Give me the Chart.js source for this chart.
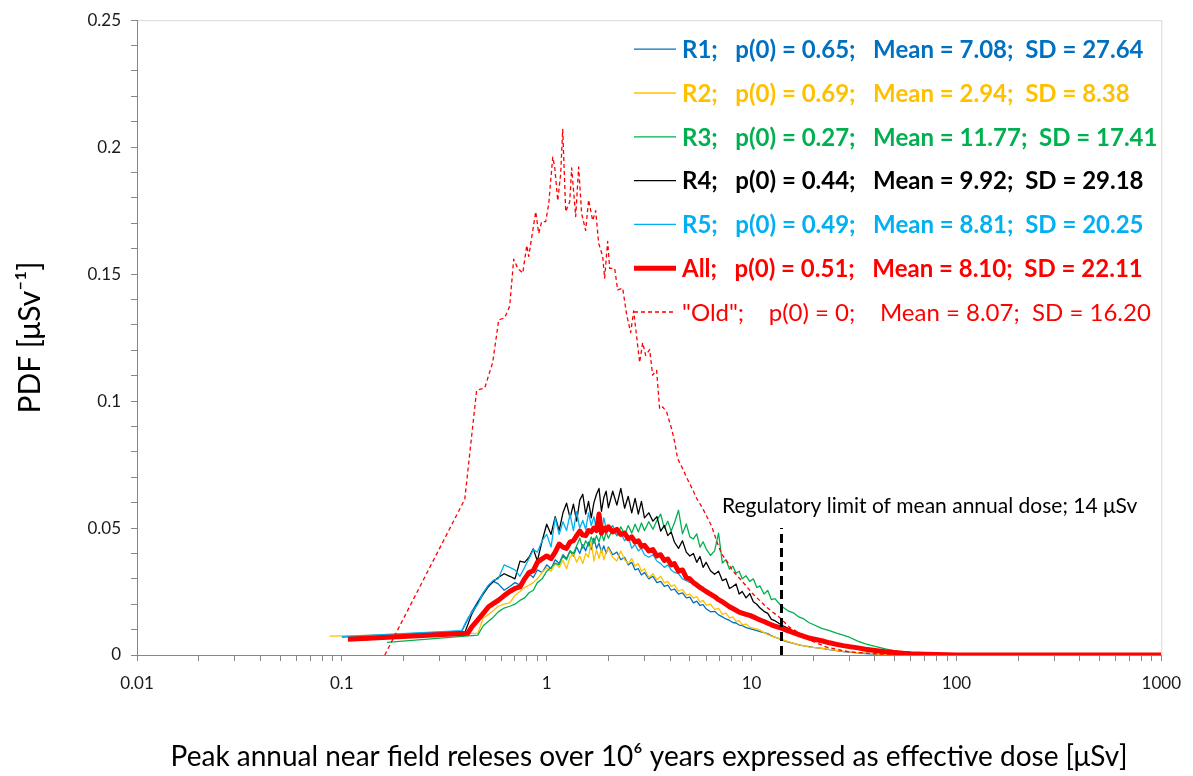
<!DOCTYPE html>
<html>
<head>
<meta charset="utf-8">
<title>PDF of peak annual near field releases</title>
<script src="https://cdn.jsdelivr.net/npm/chart.js@4.4.1/dist/chart.umd.min.js"></script>
<style>
  html, body { margin: 0; padding: 0; background: #fff; }
  #wrap { width: 1193px; height: 776px; position: relative; }
</style>
</head>
<body>
<div id="wrap"><canvas id="pdf-chart"></canvas></div>
<script>

/*======= Data =======*/

// dose grid shared by R1..R5 and All [uSv]
var dose = [
  0.087, 0.1, 0.107, 0.13, 0.166, 0.385, 0.40, 0.412, 0.43, 0.461,
  0.49, 0.52, 0.55, 0.58, 0.62, 0.66, 0.70, 0.74, 0.78, 0.82, 0.86, 0.90, 0.95,
  1.0, 1.05, 1.1, 1.15, 1.2, 1.25, 1.3, 1.35, 1.4, 1.45, 1.5, 1.55, 1.6, 1.65, 1.7, 1.75, 1.8, 1.85, 1.9, 1.95,
  2.0, 2.1, 2.2, 2.3, 2.4, 2.5, 2.6, 2.7, 2.8, 2.9, 3.0,
  3.15, 3.3, 3.45, 3.6, 3.75, 3.9, 4.05, 4.2, 4.4, 4.6, 4.8, 5.0,
  5.2, 5.4, 5.6, 5.8, 6.0, 6.3, 6.6, 6.9, 7.2, 7.5, 7.8, 8.1, 8.4, 8.7, 9.0, 9.4, 9.8,
  10.2, 10.6, 11.0, 11.5, 12, 12.5, 13, 14, 15, 16, 17, 18, 19, 20,
  22, 24, 26, 28, 30, 33, 36, 40, 45, 50, 55, 60, 70, 80, 90, 100, 200, 500, 1000
];

var pdfR1 = [
  null, 0.0070, null, null, null, 0.0094, 0.0120, 0.0140, 0.0170, 0.0210,
  0.0245, 0.0275, 0.0290, 0.0280, 0.0255, 0.0270, 0.0285, 0.0275, 0.0300, 0.0320, 0.0305, 0.0335, 0.0325,
  0.0355, 0.0340, 0.0375, 0.0360, 0.0395, 0.0380, 0.0410, 0.0390, 0.0425, 0.0400, 0.0435, 0.0410, 0.0445, 0.0415, 0.0460, 0.0420, 0.0440, 0.0405, 0.0430, 0.0400,
  0.0425, 0.0395, 0.0405, 0.0375, 0.0385, 0.0355, 0.0365, 0.0335, 0.0340, 0.0315, 0.0325,
  0.0300, 0.0310, 0.0285, 0.0290, 0.0270, 0.0275, 0.0255, 0.0260, 0.0240, 0.0245, 0.0225, 0.0228,
  0.0205, 0.0212, 0.0195, 0.0198, 0.0182, 0.0170, 0.0172, 0.0158, 0.0150, 0.0142, 0.0136, 0.0128, 0.0126, 0.0118, 0.0116, 0.0108, 0.0104,
  0.0100, 0.0096, 0.0092, 0.0088, 0.0084, 0.0076, 0.0070, 0.0060, 0.0052, 0.0046, 0.0040, 0.0036, 0.0033, 0.0030,
  0.0026, 0.0021, 0.0017, 0.0013, 0.0011, 0.0008, 0.0006, 0.0004, 0.0003, 0.0002, 0.0001, 0.0001, 0, 0, 0, 0, null, null, null
];

var pdfR2 = [
  0.0074, null, null, null, null, null, null, null, null, 0.0086,
  0.0145, 0.0160, 0.0175, 0.0192, 0.0200, 0.0205, 0.0235, 0.0250, 0.0266, 0.0275, 0.0285, 0.0300, 0.0325,
  0.0344, 0.0330, 0.0360, 0.0345, 0.0372, 0.0340, 0.0385, 0.0400, 0.0365, 0.0390, 0.0360, 0.0400, 0.0385, 0.0450, 0.0370, 0.0415, 0.0380, 0.0420, 0.0375, 0.0405,
  0.0420, 0.0385, 0.0370, 0.0410, 0.0375, 0.0360, 0.0380, 0.0350, 0.0360, 0.0330, 0.0340,
  0.0305, 0.0320, 0.0296, 0.0310, 0.0284, 0.0290, 0.0270, 0.0276, 0.0252, 0.0258, 0.0236, 0.0240,
  0.0224, 0.0230, 0.0208, 0.0215, 0.0196, 0.0200, 0.0180, 0.0184, 0.0160, 0.0165, 0.0146, 0.0150, 0.0132, 0.0135, 0.0120, 0.0122, 0.0110,
  0.0106, 0.0103, 0.0098, 0.0088, 0.0080, 0.0074, 0.0070, 0.0062, 0.0054, 0.0047, 0.0040, 0.0036, 0.0032, 0.0030,
  0.0026, 0.0022, 0.0018, 0.0015, 0.0012, 0.0009, 0.0007, 0.0005, 0.0003, 0.0002, 0.0001, 0.0001, 0, 0, 0, 0, null, null, null
];

var pdfR3 = [
  null, null, null, null, 0.0050, null, null, null, null, 0.0078,
  0.0115, 0.0133, 0.0150, 0.0170, 0.0185, 0.0192, 0.0200, 0.0215, 0.0225, 0.0245, 0.0255, 0.0285, 0.0300,
  0.0330, 0.0345, 0.0362, 0.0355, 0.0390, 0.0375, 0.0410, 0.0400, 0.0430, 0.0460, 0.0420, 0.0450, 0.0430, 0.0465, 0.0440, 0.0470, 0.0445, 0.0480, 0.0450, 0.0485,
  0.0460, 0.0495, 0.0470, 0.0505, 0.0475, 0.0510, 0.0480, 0.0515, 0.0485, 0.0520, 0.0490,
  0.0525, 0.0495, 0.0530, 0.0555, 0.0500, 0.0527, 0.0488, 0.0520, 0.0570, 0.0477, 0.0516, 0.0465,
  0.0457, 0.0477, 0.0425, 0.0446, 0.0418, 0.0392, 0.0410, 0.0480, 0.0362, 0.0375, 0.0338, 0.0350, 0.0322, 0.0330, 0.0300, 0.0312, 0.0290,
  0.0300, 0.0266, 0.0272, 0.0240, 0.0254, 0.0218, 0.0222, 0.0192, 0.0175, 0.0166, 0.0150, 0.0142, 0.0128, 0.0120,
  0.0105, 0.0096, 0.0086, 0.0078, 0.0070, 0.0055, 0.0044, 0.0034, 0.0024, 0.0016, 0.0010, 0.0005, 0.0001, 0, 0, 0, null, null, null
];

var pdfR4 = [
  null, null, null, 0.0060, null, null, 0.0092, null, 0.0160, 0.0205,
  0.0240, 0.0270, 0.0290, 0.0305, 0.0320, 0.0310, 0.0300, 0.0370, 0.0365, 0.0385, 0.0418, 0.0370, 0.0450,
  0.0515, 0.0475, 0.0545, 0.0490, 0.0560, 0.0598, 0.0540, 0.0594, 0.0527, 0.0610, 0.0633, 0.0555, 0.0605, 0.0540, 0.0600, 0.0633, 0.0656, 0.0566, 0.0620, 0.0645,
  0.0580, 0.0645, 0.0590, 0.0656, 0.0578, 0.0625, 0.0560, 0.0617, 0.0555, 0.0605, 0.0540,
  0.0560, 0.0527, 0.0545, 0.0488, 0.0510, 0.0470, 0.0485, 0.0445, 0.0420, 0.0450, 0.0405, 0.0390,
  0.0400, 0.0365, 0.0388, 0.0345, 0.0365, 0.0332, 0.0318, 0.0330, 0.0293, 0.0300, 0.0262, 0.0270, 0.0280, 0.0240, 0.0250, 0.0225, 0.0242,
  0.0210, 0.0200, 0.0185, 0.0172, 0.0164, 0.0140, 0.0135, 0.0118, 0.0106, 0.0094, 0.0086, 0.0078, 0.0072, 0.0066,
  0.0058, 0.0050, 0.0044, 0.0038, 0.0034, 0.0028, 0.0023, 0.0018, 0.0013, 0.0009, 0.0006, 0.0004, 0.0002, 0.0001, 0, 0, null, null, null
];

var pdfR5 = [
  null, 0.0072, null, null, null, 0.0096, 0.0125, 0.0145, 0.0165, 0.0200,
  0.0245, 0.0275, 0.0295, 0.0300, 0.0355, 0.0345, 0.0335, 0.0310, 0.0345, 0.0380, 0.0415, 0.0405, 0.0450,
  0.0475, 0.0425, 0.0540, 0.0475, 0.0525, 0.0490, 0.0555, 0.0490, 0.0565, 0.0500, 0.0530, 0.0495, 0.0560, 0.0510, 0.0545, 0.0490, 0.0530, 0.0480, 0.0540, 0.0500,
  0.0490, 0.0510, 0.0470, 0.0480, 0.0450, 0.0465, 0.0420, 0.0435, 0.0410, 0.0420, 0.0395,
  0.0385, 0.0395, 0.0370, 0.0360, 0.0345, 0.0355, 0.0335, 0.0325, 0.0320, 0.0300, 0.0293, 0.0285,
  0.0285, 0.0280, 0.0265, 0.0268, 0.0245, 0.0238, 0.0228, 0.0222, 0.0210, 0.0198, 0.0192, 0.0185, 0.0176, 0.0172, 0.0168, 0.0162, 0.0155,
  0.0150, 0.0146, 0.0141, 0.0137, 0.0130, 0.0124, 0.0119, 0.0108, 0.0098, 0.0090, 0.0082, 0.0075, 0.0069, 0.0064,
  0.0056, 0.0049, 0.0042, 0.0037, 0.0033, 0.0027, 0.0022, 0.0017, 0.0012, 0.0008, 0.0006, 0.0004, 0.0002, 0.0001, 0, 0, null, null, null
];

var pdfAll = [
  null, null, 0.0062, null, null, null, null, 0.0086, 0.0110, 0.0138,
  0.0164, 0.0190, 0.0203, 0.0215, 0.0234, 0.0250, 0.0262, 0.0268, 0.0300, 0.0325, 0.0332, 0.0365, 0.0379,
  0.0390, 0.0380, 0.0405, 0.0437, 0.0425, 0.0420, 0.0445, 0.0450, 0.0470, 0.0488, 0.0472, 0.0470, 0.0490, 0.0485, 0.0500, 0.0490, 0.0555, 0.0480, 0.0500, 0.0490,
  0.0505, 0.0485, 0.0495, 0.0475, 0.0480, 0.0458, 0.0465, 0.0445, 0.0450, 0.0428, 0.0432,
  0.0410, 0.0415, 0.0390, 0.0395, 0.0372, 0.0378, 0.0355, 0.0360, 0.0330, 0.0335, 0.0305, 0.0300,
  0.0285, 0.0276, 0.0266, 0.0258, 0.0250, 0.0240, 0.0230, 0.0218, 0.0210, 0.0200, 0.0190, 0.0183, 0.0176, 0.0169, 0.0165, 0.0160, 0.0156,
  0.0150, 0.0144, 0.0138, 0.0132, 0.0125, 0.0119, 0.0114, 0.0106, 0.0096, 0.0088, 0.0080, 0.0073, 0.0067, 0.0063,
  0.0056, 0.0048, 0.0042, 0.0037, 0.0033, 0.0028, 0.0023, 0.0018, 0.0013, 0.0010, 0.0007, 0.0005, 0.0003, 0.0002, 0.0001, 0, 0, 0, 0
];

// "Old" distribution has its own dose points
var oldDose = [
  0.162, 0.398, 0.455, 0.498, 0.545, 0.583, 0.624, 0.660, 0.690, 0.722,
  0.764, 0.799, 0.817, 0.884, 0.914, 0.945, 0.989, 1.023, 1.070, 1.094,
  1.132, 1.170, 1.197, 1.238, 1.295, 1.324, 1.385, 1.432, 1.481, 1.549,
  1.602, 1.676, 1.734, 1.793, 1.876, 1.918, 1.984, 2.029, 2.146, 2.220,
  2.349, 2.456, 2.570, 2.657, 2.843, 2.940, 3.041, 3.180, 3.289, 3.440,
  3.558, 3.680, 3.849, 4.071, 4.211, 4.355, 4.607, 4.873, 5.154, 5.391,
  5.768, 6.381, 6.750, 7.140, 7.551, 8.078, 8.937, 10.11, 11.84, 13.70,
  15.32, 17.14, 19.18, 23.23, 30.06, 42.11, 66.0
];
var oldPdf = [
  0, 0.0613, 0.1043, 0.1051, 0.1152, 0.1320, 0.1328, 0.1375, 0.1559, 0.1523,
  0.1504, 0.1613, 0.1570, 0.1746, 0.1660, 0.1707, 0.1707, 0.1777, 0.1961, 0.1922,
  0.1789, 0.1895, 0.2070, 0.1746, 0.1785, 0.1918, 0.1727, 0.1922, 0.1738, 0.1672,
  0.1793, 0.1711, 0.1750, 0.1621, 0.1570, 0.1484, 0.1629, 0.1523, 0.1523, 0.1438,
  0.1445, 0.1340, 0.1270, 0.1355, 0.1152, 0.1230, 0.1180, 0.1203, 0.1102, 0.1121,
  0.0969, 0.0977, 0.0957, 0.0891, 0.0840, 0.0773, 0.0734, 0.0691, 0.0652, 0.0617,
  0.0578, 0.0508, 0.0449, 0.0398, 0.0371, 0.0332, 0.0293, 0.0242, 0.0188, 0.0148,
  0.0109, 0.0086, 0.0059, 0.0031, 0.0012, 0.0004, 0
];

var seriesNames = ['R1', 'R2', 'R3', 'R4', 'R5', 'All', 'Old'];
var seriesColors = ['#0070C0', '#FFC000', '#00B050', '#000000', '#00B0F0', '#FF0000', '#FF0000'];
var legendLabels = [
  'R1;   p(0) = 0.65;   Mean = 7.08;  SD = 27.64',
  'R2;   p(0) = 0.69;   Mean = 2.94;  SD = 8.38',
  'R3;   p(0) = 0.27;   Mean = 11.77;  SD = 17.41',
  'R4;   p(0) = 0.44;   Mean = 9.92;  SD = 29.18',
  'R5;   p(0) = 0.49;   Mean = 8.81;  SD = 20.25',
  'All;   p(0) = 0.51;   Mean = 8.10;  SD = 22.11',
  '"Old";    p(0) = 0;    Mean = 8.07;  SD = 16.20'
];
var xTickLabels = ['0.01', '0.1', '1', '10', '100', '1000'];
var yTickLabels = ['0', '0.05', '0.1', '0.15', '0.2', '0.25'];

var regLimit = 14;          // uSv
var regLimitTop = 0.05;
var regLimitText = 'Regulatory limit of mean annual dose; 14 \u03BCSv';


/*======= Chart =======*/

function points(xs, ys) {
  var out = [];
  for (var i = 0; i < xs.length; i++) {
    if (ys[i] !== null) out.push({ x: xs[i], y: ys[i] });
  }
  return out;
}

var curves = [pdfR1, pdfR2, pdfR3, pdfR4, pdfR5, pdfAll];
var datasets = curves.map(function(ys, i) {
  return {
    label: seriesNames[i],
    data: points(dose, ys),
    borderColor: seriesColors[i],
    borderWidth: i === 5 ? 5 : 1.3,
    order: i === 5 ? 0 : 6 - i
  };
});
datasets.push({
  label: seriesNames[6],
  data: points(oldDose, oldPdf),
  borderColor: seriesColors[6],
  borderWidth: 1.3,
  borderDash: [4, 3],
  order: 1
});
datasets.push({
  label: 'limit',
  data: points([regLimit, regLimit], [0, regLimitTop]),
  borderColor: '#000000',
  borderWidth: 3,
  borderDash: [9, 5],
  order: -1
});

var extras = {
  id: 'extras',
  beforeDraw: function(chart) {
    var ctx = chart.ctx, a = chart.chartArea;
    ctx.save();
    ctx.strokeStyle = '#d9d9d9';
    ctx.lineWidth = 1;
    ctx.strokeRect(a.left + 0.5, a.top + 0.5, a.right - a.left, a.bottom - a.top);
    ctx.restore();
  },
  afterDraw: function(chart) {
    var ctx = chart.ctx, a = chart.chartArea;
    var x0 = a.left + 497, y0 = a.top + 29;
    ctx.save();
    legendLabels.forEach(function(text, i) {
      var ds = chart.data.datasets[i];
      var y = y0 + i * 43.8;
      ctx.beginPath();
      ctx.setLineDash(ds.borderDash || []);
      ctx.lineWidth = ds.borderWidth;
      ctx.strokeStyle = ds.borderColor;
      ctx.moveTo(x0, y);
      ctx.lineTo(x0 + 42, y);
      ctx.stroke();
      ctx.setLineDash([]);
      ctx.fillStyle = ds.borderColor;
      ctx.font = (i < 6 ? 'bold ' : '') + '24px Lato';
      ctx.textAlign = 'left';
      ctx.textBaseline = 'middle';
      ctx.fillText(text, x0 + 48, y + 1);
    });
    // label of the regulatory limit
    ctx.fillStyle = '#000';
    ctx.font = '21px Lato';
    ctx.textAlign = 'center';
    ctx.textBaseline = 'middle';
    ctx.fillText(regLimitText, chart.scales.x.getPixelForValue(74), chart.scales.y.getPixelForValue(0.0586));
    ctx.restore();
  }
};

var ctx = document.getElementById('pdf-chart');
var pdfChart = new Chart(ctx, {
  type: 'line',
  data: { datasets: datasets },
  plugins: [extras],
  options: {
    responsive: true,
    maintainAspectRatio: false,
    animation: false,
    layout: { padding: { top: 15, right: 30, left: 0, bottom: 0 } },
    plugins: { legend: { display: false }, tooltip: { enabled: false } },
    elements: {
      point: { radius: 0 },
      line: { tension: 0, borderJoinStyle: 'round', fill: false }
    },
    scales: {
      x: {
        type: 'logarithmic',
        min: 0.01,
        max: 1000,
        afterBuildTicks: function(scale) {
          var ticks = [];
          for (var e = -2; e < 3; e++) {
            for (var m = 1; m < 10; m++) ticks.push({ value: m * Math.pow(10, e) });
          }
          ticks.push({ value: 1000 });
          scale.ticks = ticks;
        },
        afterFit: function(scale) { scale.height = 121; },
        grid: { drawOnChartArea: false, drawTicks: true, tickLength: 6, color: '#868686' },
        border: { color: '#868686' },
        ticks: {
          autoSkip: false,
          maxRotation: 0,
          padding: 12,
          color: '#1a1a1a',
          font: { family: 'Lato', size: 17 },
          callback: function(value) {
            var lg = Math.log10(value), k = Math.round(lg);
            return Math.abs(lg - k) < 1e-6 ? xTickLabels[k + 2] : '';
          }
        },
        title: {
          display: true,
          text: 'Peak annual near field releses over 10\u2076 years expressed as effective dose [\u03BCSv]',
          color: '#000',
          font: { family: 'Lato', size: 28 },
          padding: { top: 0, bottom: 2 }
        }
      },
      y: {
        min: 0,
        max: 0.25,
        afterBuildTicks: function(scale) {
          var ticks = [];
          for (var k = 0; k <= 25; k++) ticks.push({ value: k / 100 });
          scale.ticks = ticks;
        },
        afterFit: function(scale) { scale.width = 137; },
        grid: { drawOnChartArea: false, drawTicks: true, tickLength: 6, color: '#868686' },
        border: { color: '#868686' },
        ticks: {
          autoSkip: false,
          padding: 10,
          color: '#1a1a1a',
          font: { family: 'Lato', size: 17 },
          callback: function(value) {
            var k = Math.round(value / 0.05);
            return Math.abs(value - k * 0.05) < 1e-9 ? yTickLabels[k] : '';
          }
        },
        title: {
          display: true,
          text: 'PDF [\u03BCSv\u207B\u00B9]',
          color: '#000',
          font: { family: 'Lato', size: 30 },
          padding: { top: 12, bottom: 0 }
        }
      }
    }
  }
});

</script>
</body>
</html>
